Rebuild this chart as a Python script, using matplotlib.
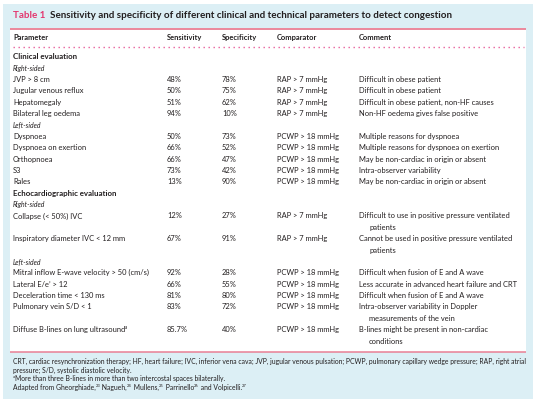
import re
import matplotlib
matplotlib.use("Agg")
import matplotlib.pyplot as plt
from matplotlib.patches import Rectangle

# ---------------- data ----------------
title_label = "Table 1"
title_text = "Sensitivity and specificity of different clinical and technical parameters to detect congestion"
headers = ["Parameter", "Sensitivity", "Specificity", "Comparator", "Comment"]

sections = ["Clinical evaluation"] * 9 + ["Echocardiographic evaluation"] * 7
sides = (["Right-sided"] * 4 + ["Left-sided"] * 5 +
         ["Right-sided"] * 2 + ["Left-sided"] * 5)
parameters = [
    "JVP > 8 cm",
    "Jugular venous reflux",
    "Hepatomegaly",
    "Bilateral leg oedema",
    "Dyspnoea",
    "Dyspnoea on exertion",
    "Orthopnoea",
    "S3",
    "Rales",
    "Collapse (< 50%) IVC",
    "Inspiratory diameter IVC < 12 mm",
    "Mitral inflow E-wave velocity > 50 (cm/s)",
    "Lateral E/e\u2019 > 12",
    "Deceleration time < 130 ms",
    "Pulmonary vein S/D < 1",
    "Diffuse B-lines on lung ultrasound{a}",
]
sensitivity = ["48%", "50%", "51%", "94%", "50%", "66%", "66%", "73%", "13%",
               "12%", "67%", "92%", "66%", "81%", "83%", "85.7%"]
specificity = ["78%", "75%", "62%", "10%", "73%", "52%", "47%", "42%", "90%",
               "27%", "91%", "28%", "55%", "80%", "72%", "40%"]
comparator = (["RAP > 7 mmHg"] * 4 + ["PCWP > 18 mmHg"] * 5 +
              ["RAP > 7 mmHg"] * 2 + ["PCWP > 18 mmHg"] * 5)
comments = [
    ["Difficult in obese patient"],
    ["Difficult in obese patient"],
    ["Difficult in obese patient, non-HF causes"],
    ["Non-HF oedema gives false positive"],
    ["Multiple reasons for dyspnoea"],
    ["Multiple reasons for dyspnoea on exertion"],
    ["May be non-cardiac in origin or absent"],
    ["Intra-observer variability"],
    ["May be non-cardiac in origin or absent"],
    ["Difficult to use in positive pressure ventilated", "patients"],
    ["Cannot be used in positive pressure ventilated", "patients"],
    ["Difficult when fusion of E and A wave"],
    ["Less accurate in advanced heart failure and CRT"],
    ["Difficult when fusion of E and A wave"],
    ["Intra-observer variability in Doppler", "measurements of the vein"],
    ["B-lines might be present in non-cardiac", "conditions"],
]
footnotes = [
    "CRT, cardiac resynchronization therapy; HF, heart failure; IVC, inferior vena cava; JVP, jugular venous pulsation; PCWP, pulmonary capillary wedge pressure; RAP, right atrial",
    "pressure; S/D, systolic diastolic velocity.",
    "{a}More than three B-lines in more than two intercostal spaces bilaterally.",
    "Adapted from Gheorghiade,{23} Nagueh,{24} Mullens,{25} Parrinello{26} and Volpicelli.{27}",
]

# ---------------- style ----------------
W, H, DPI = 540, 408, 100
FONT = ["Lato", "DejaVu Sans"]
TXT = "#231F20"
BLUE = "#DCEFF5"
RED = "#E97F94"
PINK = "#E3366F"
DOT = "#E8609A"

fig = plt.figure(figsize=(W / DPI, H / DPI), dpi=DPI)
fig.patch.set_facecolor("white")
ax = fig.add_axes([0, 0, 1, 1])
ax.set_xlim(0, W)
ax.set_ylim(H, 0)
ax.axis("off")
renderer = fig.canvas.get_renderer()


def text_width(s, size, weight="normal", style="normal"):
    t = ax.text(0, 0, s, fontsize=size, fontweight=weight, fontstyle=style, family=FONT)
    w = t.get_window_extent(renderer).width
    t.remove()
    return w


def fit(s, target, weight="normal"):
    return 10 * target / text_width(s, 10, weight)


def rich(x, y, s, size, weight="normal", style="normal", color=TXT):
    for p in re.split(r"(\{[^}]*\})", s):
        if not p:
            continue
        if p.startswith("{"):
            seg, sz, dy = p[1:-1], size * 0.62, -size * 0.42 * DPI / 72
        else:
            seg, sz, dy = p, size, 0
        t = ax.text(x, y + dy, seg, fontsize=sz, fontweight=weight, fontstyle=style,
                    family=FONT, color=color, ha="left", va="baseline")
        x += t.get_window_extent(renderer).width
    return x


BODY = fit("Less accurate in advanced heart failure and CRT", 158)
TITLE = fit(title_label + "  " + title_text, 440, "bold")
FOOT = fit(footnotes[0], 508)

# background boxes
ax.add_patch(Rectangle((3, 4), 530, 395, facecolor=BLUE, edgecolor="none", zorder=0))
ax.add_patch(Rectangle((10, 28), 516, 324, facecolor="white", edgecolor="none", zorder=0.5))
ax.plot([10, 526], [28.5, 28.5], color=RED, lw=1.3, solid_capstyle="butt", zorder=1)
ax.plot([10, 526], [352, 352], color=RED, lw=1.1, solid_capstyle="butt", zorder=1)
ax.plot([13, 524], [47, 47], color=DOT, lw=1.0, linestyle=(0, (1, 2.6)), zorder=1)

# title
BASE = 2.3
x = rich(13, 15 + BASE + 0.8, title_label, TITLE, weight="bold", color=PINK)
rich(x + text_width("  ", TITLE, "bold"), 15 + BASE + 0.8, title_text, TITLE, weight="bold")

# header
col_x = [13, 167, 222, 277, 359]
for cx, h in zip(col_x, headers):
    rich(cx, 38 + BASE, h, BODY, weight="bold")

# body rows
y0, pitch = 57, 11.37
k = 0
prev_sec = prev_side = None
for i in range(len(parameters)):
    if sections[i] != prev_sec:
        rich(col_x[0], y0 + pitch * k + BASE, sections[i], BODY * 1.05, weight="bold")
        k += 1
    if sides[i] != prev_side or sections[i] != prev_sec:
        rich(col_x[0], y0 + pitch * k + BASE, sides[i], BODY * 0.92, style="italic")
        k += 1
    prev_sec, prev_side = sections[i], sides[i]
    yb = y0 + pitch * k + BASE
    rich(col_x[0], yb, parameters[i], BODY)
    rich(col_x[1], yb, sensitivity[i], BODY)
    rich(col_x[2], yb, specificity[i], BODY)
    rich(col_x[3], yb, comparator[i], BODY)
    rich(col_x[4], yb, comments[i][0], BODY)
    for extra in comments[i][1:]:
        k += 1
        rich(col_x[4] + 10, y0 + pitch * k + BASE, extra, BODY)
    k += 1

# footnotes
for j, fn in enumerate(footnotes):
    rich(13, 362 + 8.6 * j + 2.0, fn, FOOT)

fig.savefig("out.png", dpi=DPI, facecolor="white")
